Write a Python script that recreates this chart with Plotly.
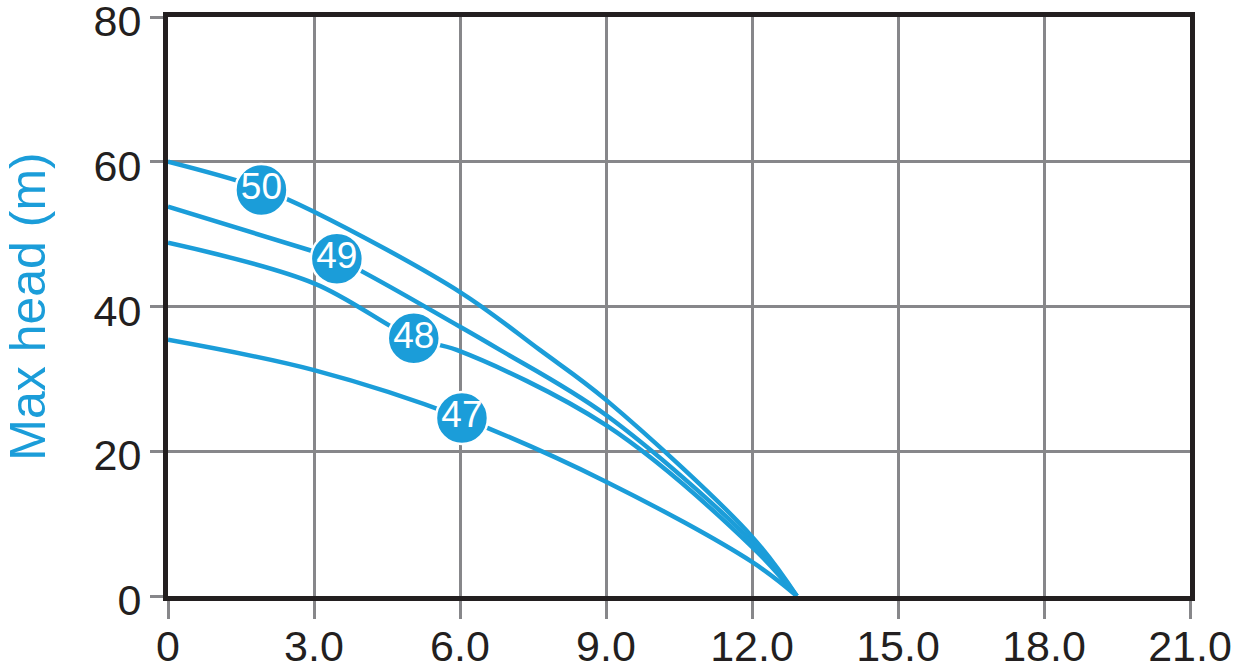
import plotly.graph_objects as go

# ---- data ----
x50 = [0, 1.92, 3.0, 6.0, 7.64, 9.0, 12.0, 12.92]
y50 = [60.0, 56.3, 53.1, 42.0, 34.0, 27.1, 8.2, 0.0]

x49 = [0, 3.0, 3.47, 6.0, 6.82, 9.0, 12.0, 12.92]
y49 = [53.8, 47.6, 46.6, 37.2, 34.0, 25.0, 7.5, 0.0]

x48 = [0, 3.0, 5.05, 5.93, 9.0, 12.0, 12.92]
y48 = [48.8, 43.2, 35.6, 34.0, 23.6, 6.8, 0.0]

x47 = [0, 3.0, 6.04, 9.0, 12.0, 12.92]
y47 = [35.4, 31.2, 24.6, 15.8, 4.7, 0.0]

label_text = ["50", "49", "48", "47"]
label_x = [1.92, 3.47, 5.05, 6.04]
label_y = [56.1, 46.6, 35.6, 24.6]

x_ticks = [0, 3, 6, 9, 12, 15, 18, 21]
x_tick_text = ["0", "3.0", "6.0", "9.0", "12.0", "15.0", "18.0", "21.0"]
y_ticks = [0, 20, 40, 60, 80]
y_title = "Max head (m)"

BLUE = "#1b9dd9"
GRID = "#87878a"
FRAME = "#231f20"

fig = go.Figure()
for xs, ys in [(x47, y47), (x48, y48), (x49, y49), (x50, y50)]:
    fig.add_trace(go.Scatter(
        x=xs, y=ys, mode="lines",
        line=dict(color=BLUE, width=4.5, shape="spline", smoothing=1.0),
        showlegend=False, hoverinfo="skip", cliponaxis=False,
    ))

fig.add_trace(go.Scatter(
    x=label_x, y=label_y, mode="markers+text",
    text=label_text, textposition="middle center",
    marker=dict(size=52, color=BLUE, line=dict(color="white", width=2.5)),
    textfont=dict(family="Liberation Sans Narrow, Arial Narrow, Liberation Sans, Arial", size=37, color="white"),
    showlegend=False, hoverinfo="skip", cliponaxis=False,
))

fig.update_layout(
    width=1241, height=672,
    margin=dict(l=168, r=51, t=17, b=76, autoexpand=False),
    paper_bgcolor="white", plot_bgcolor="white",
    font=dict(family="Liberation Sans, Arial, sans-serif", color="#231f20"),
)
fig.update_xaxes(
    range=[0, 21], tickvals=x_ticks, ticktext=x_tick_text,
    showgrid=True, gridcolor=GRID, gridwidth=3,
    ticks="outside", ticklen=18, tickwidth=3, tickcolor=GRID,
    tickfont=dict(size=43, color="#231f20"),
    ticklabelstandoff=-10, ticklabeloverflow="allow",
    showline=True, linecolor=FRAME, linewidth=5, mirror=True,
    zeroline=False, fixedrange=True, automargin=False,
)
fig.update_yaxes(
    range=[0, 80], tickvals=y_ticks,
    showgrid=True, gridcolor=GRID, gridwidth=3,
    ticks="outside", ticklen=13, tickwidth=3, tickcolor=GRID,
    tickfont=dict(size=43, color="#231f20"),
    ticklabeloverflow="allow", ticklabelshift=4,
    showline=True, linecolor=FRAME, linewidth=5, mirror=True,
    zeroline=False, fixedrange=True, automargin=False,
    title=dict(text=y_title, font=dict(size=50, color=BLUE), standoff=40),
)

fig.write_html("out.html")
